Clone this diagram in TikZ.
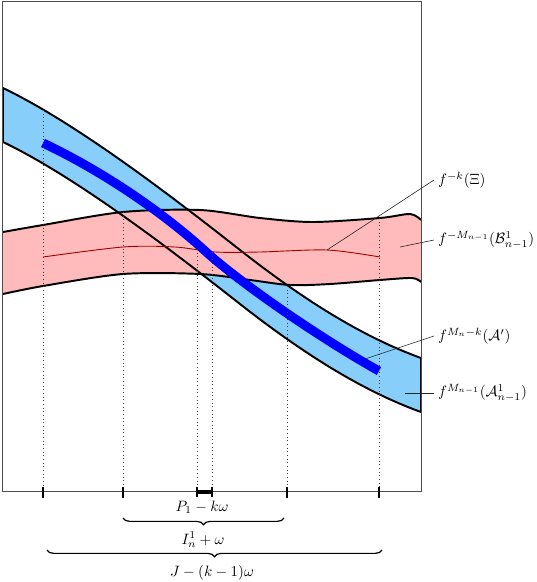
\documentclass[tikz,border=0pt]{standalone}
\usetikzlibrary{decorations.pathreplacing}
\definecolor{bandblue}{RGB}{135,206,250}
\definecolor{bandpink}{RGB}{255,187,187}
\definecolor{curvered}{RGB}{165,0,0}
\begin{document}
\begin{tikzpicture}[x=0.6667pt,y=-0.6667pt,
  bandline/.style={line width=1.3pt, line join=round},
  guide/.style={dotted, line width=0.45pt, black!75},
  tickmark/.style={line width=0.9pt},
  leader/.style={line width=0.4pt, black!85},
  lbl/.style={anchor=west, inner sep=2.5pt},
  bracedec/.style={decorate, decoration={brace, mirror, amplitude=4.5pt}, line width=0.8pt}]
\useasboundingbox (0,0) rectangle (537,582);

% blue band fill
\fill[bandblue] (3,88) .. controls (80,125) and (180,203) .. (240,250)
  .. controls (300,297) and (360,336) .. (421,358)
  -- (421,412)
  .. controls (360,390) and (300,351) .. (240,304)
  .. controls (180,257) and (80,179) .. (3,142) -- cycle;

% pink band fill
\fill[bandpink] plot[smooth] coordinates {(3,232) (43,225) (123,212) (200,210) (260,218) (313,222) (380,218) (410,214) (421,220)}
  -- (421,282)
  -- plot[smooth] coordinates {(421,282) (412,278) (380,280) (330,284) (290,285) (250,280) (200,274) (123,274) (43,286) (3,294)}
  -- cycle;

% pink band boundaries
\draw[bandline] plot[smooth] coordinates {(3,232) (43,225) (123,212) (200,210) (260,218) (313,222) (380,218) (410,214) (421,220)};
\draw[bandline] plot[smooth] coordinates {(3,294) (43,286) (123,274) (200,274) (250,280) (290,285) (330,284) (380,280) (412,278) (421,282)};

% blue band outline
\draw[bandline] (3,88) .. controls (80,125) and (180,203) .. (240,250)
  .. controls (300,297) and (360,336) .. (421,358)
  -- (421,412)
  .. controls (360,390) and (300,351) .. (240,304)
  .. controls (180,257) and (80,179) .. (3,142) -- cycle;

% red curve
\draw[curvered, line width=0.6pt] plot[smooth] coordinates {(43,257) (123,247) (175,247) (215,252) (260,252) (327,250) (380,257)};

% thick blue curve
\draw[blue, line width=6pt] (43,143) .. controls (100,170) and (160,210) .. (204,250)
  .. controls (240,283) and (320,338) .. (379,371);

% frame
\draw[black!70, line width=0.6pt] (2.5,1) rectangle (421,491);

% dotted guides
\coordinate (g1) at (43,110);   \coordinate (b1) at (43,491);
\coordinate (g2) at (123,212);  \coordinate (b2) at (123,491);
\coordinate (g3) at (197,249);  \coordinate (b3) at (197,491);
\coordinate (g4) at (212,252);  \coordinate (b4) at (212,491);
\coordinate (g5) at (287,286);  \coordinate (b5) at (287,491);
\coordinate (g6) at (379,218);  \coordinate (b6) at (379,491);
\foreach \i in {1,...,6} \draw[guide] (g\i) -- (b\i);

% ticks
\foreach \x in {43,123,287,379} \draw[tickmark] (\x,487) -- (\x,498);
\draw[line width=2.6pt] (197,492) -- (212,492);
\draw[tickmark] (197,487) -- (197,497);
\draw[tickmark] (212,487) -- (212,497);

% braces and labels
\node (p1) at (202,507) {$P_1-k\omega$};
\draw[bracedec] (123,518) -- (284,518);
\node (in) at (203,540) {$I^1_n+\omega$};
\draw[bracedec] (47,550) -- (382,550);
\node (jj) at (212,573) {$J-(k-1)\omega$};

% right labels with leaders
\node[lbl] (lxi) at (434,180) {$f^{-k}(\Xi)$};
\coordinate (pxi) at (327,250);
\draw[leader] (pxi) -- (lxi.west);

\node[lbl] (lb) at (434,240) {$f^{-M_{n-1}}(\mathcal{B}^1_{n-1})$};
\coordinate (pb) at (400,247);
\draw[leader] (pb) -- (lb.west);

\node[lbl] (lap) at (434,336) {$f^{M_n-k}(\mathcal{A}')$};
\coordinate (pap) at (365,359);
\draw[leader] (pap) -- (lap.west);

\node[lbl] (la) at (434,393) {$f^{M_{n-1}}(\mathcal{A}^1_{n-1})$};
\coordinate (pa) at (405,393);
\draw[leader] (pa) -- (la.west);
\end{tikzpicture}
\end{document}
